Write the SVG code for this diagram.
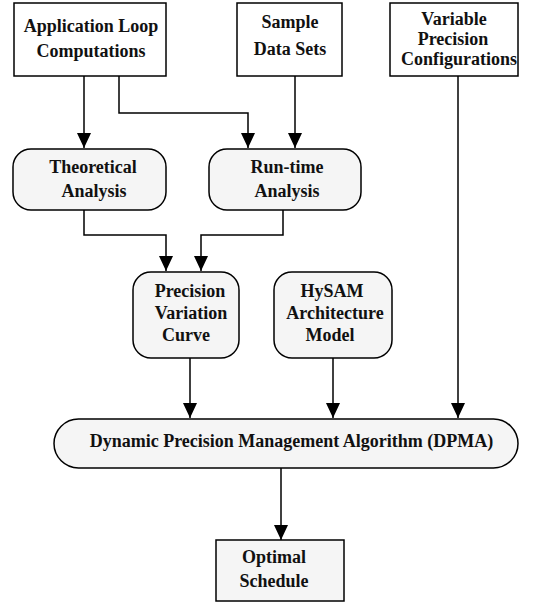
<svg xmlns="http://www.w3.org/2000/svg" width="547" height="602" viewBox="0 0 547 602">
<style>
.box{fill:#ffffff;stroke:#000;stroke-width:1.5}
.rbox{fill:#f5f5f5;stroke:#000;stroke-width:1.5}
.gbox{fill:#f5f5f5;stroke:#000;stroke-width:1.5}
.t{font-family:"Liberation Serif","Times New Roman",serif;font-weight:bold;font-size:18px;text-anchor:middle;fill:#111}
.c{fill:none;stroke:#000;stroke-width:1.5}
</style>
<defs>
<marker id="ah" markerUnits="userSpaceOnUse" markerWidth="16" markerHeight="18" refX="15" refY="7" orient="auto">
<path d="M0,0 L15,7 L0,14 Z" fill="#000"/>
</marker>
</defs>
<rect width="547" height="602" fill="#fff"/>
<g id="connectors">
<path class="c" d="M84,76 V148" marker-end="url(#ah)"/>
<path class="c" d="M119,76 V113 H248 V148" marker-end="url(#ah)"/>
<path class="c" d="M295,76 V148" marker-end="url(#ah)"/>
<path class="c" d="M84,210 V235 H166 V271" marker-end="url(#ah)"/>
<path class="c" d="M283,210 V235 H201 V271" marker-end="url(#ah)"/>
<path class="c" d="M190,358 V418" marker-end="url(#ah)"/>
<path class="c" d="M333,358 V418" marker-end="url(#ah)"/>
<path class="c" d="M458,76 V418" marker-end="url(#ah)"/>
<path class="c" d="M281,468 V540" marker-end="url(#ah)"/>
</g>
<g id="app-loop">
<rect class="box" x="14" y="3" width="152" height="73"/>
<text class="t" x="91" y="32">Application Loop</text>
<text class="t" x="91" y="57">Computations</text>
</g>
<g id="sample-data">
<rect class="box" x="237" y="3" width="105" height="73"/>
<text class="t" x="290" y="28">Sample</text>
<text class="t" x="290" y="55">Data Sets</text>
</g>
<g id="variable-precision">
<rect class="box" x="390" y="3" width="128" height="73"/>
<text class="t" x="454" y="25">Variable</text>
<text class="t" x="453" y="45">Precision</text>
<text class="t" x="459" y="65">Configurations</text>
</g>
<g id="theoretical">
<rect class="rbox" x="13" y="149" width="153" height="61" rx="18" ry="18"/>
<text class="t" x="93" y="173">Theoretical</text>
<text class="t" x="94" y="197">Analysis</text>
</g>
<g id="runtime">
<rect class="rbox" x="209" y="149" width="152" height="61" rx="18" ry="18"/>
<text class="t" x="287" y="173">Run-time</text>
<text class="t" x="287" y="197">Analysis</text>
</g>
<g id="pvc">
<rect class="rbox" x="133" y="272" width="106" height="86" rx="18" ry="18"/>
<text class="t" x="190" y="297">Precision</text>
<text class="t" x="191" y="319">Variation</text>
<text class="t" x="186" y="341">Curve</text>
</g>
<g id="hysam">
<rect class="rbox" x="274" y="272" width="118" height="86" rx="18" ry="18"/>
<text class="t" x="332" y="297">HySAM</text>
<text class="t" x="335" y="319">Architecture</text>
<text class="t" x="330" y="341">Model</text>
</g>
<g id="dpma">
<rect class="rbox" x="54" y="419" width="464" height="49" rx="24.5" ry="24.5"/>
<text class="t" x="291.5" y="447">Dynamic Precision Management Algorithm (DPMA)</text>
</g>
<g id="optimal">
<rect class="gbox" x="216" y="540" width="128" height="61"/>
<text class="t" x="274" y="563">Optimal</text>
<text class="t" x="274" y="587">Schedule</text>
</g>
</svg>
